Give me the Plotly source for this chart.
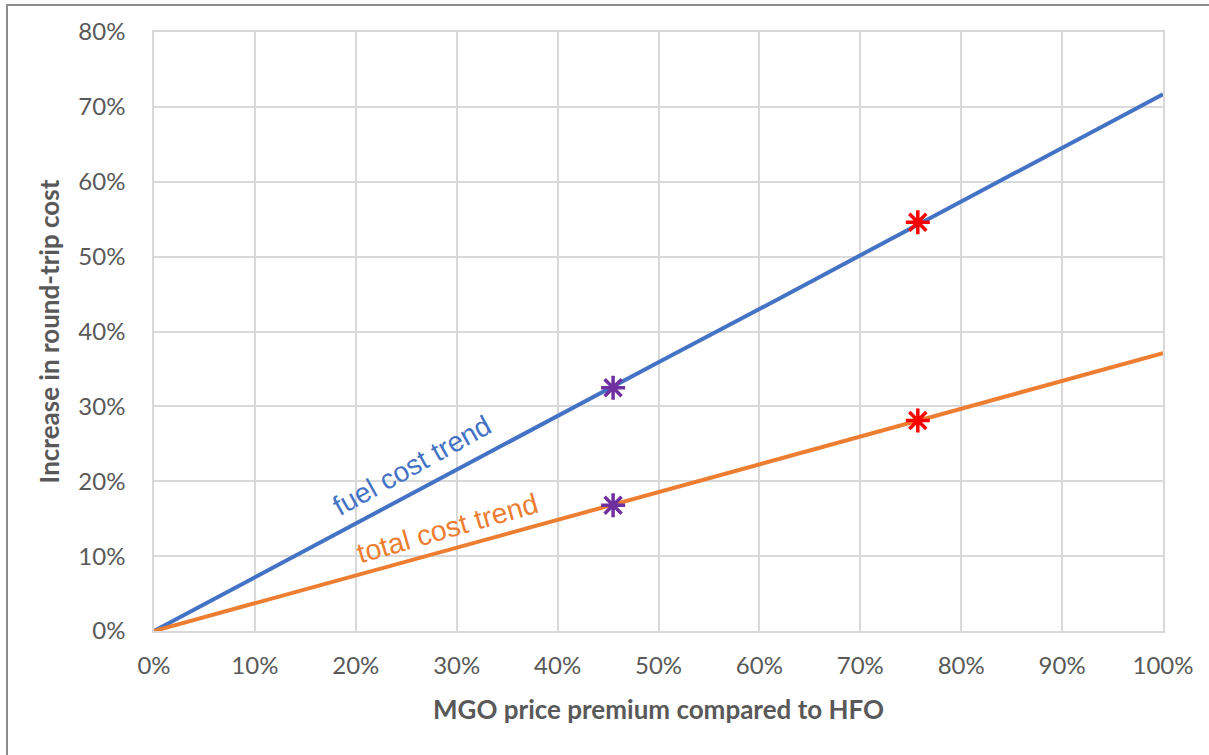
import plotly.graph_objects as go

# Data
premium = [0.0, 0.1, 0.2, 0.3, 0.4, 0.5, 0.6, 0.7, 0.8, 0.9, 1.0]
fuel_cost = [0.0, 0.072, 0.143, 0.215, 0.287, 0.359, 0.430, 0.502, 0.574, 0.645, 0.717]
total_cost = [0.0, 0.037, 0.074, 0.111, 0.148, 0.186, 0.223, 0.260, 0.297, 0.334, 0.371]

purple_x = [0.455, 0.455]
purple_y = [0.325, 0.168]
red_x = [0.757, 0.757]
red_y = [0.546, 0.281]

tick_vals_x = [i / 10 for i in range(11)]
tick_vals_y = [i / 10 for i in range(9)]

BLUE = "#4472C4"
ORANGE = "#ED7D31"
GRID = "#D9D9D9"
TXT = "#595959"

W, H = 1209, 755
L, R, T, B = 154, 46, 32, 124
PW, PH = W - L - R, H - T - B

fig = go.Figure()
fig.add_trace(go.Scatter(x=premium, y=fuel_cost, mode="lines",
                         line=dict(color=BLUE, width=4), showlegend=False, cliponaxis=False))
fig.add_trace(go.Scatter(x=premium, y=total_cost, mode="lines",
                         line=dict(color=ORANGE, width=4), showlegend=False, cliponaxis=False))
fig.add_trace(go.Scatter(x=purple_x, y=purple_y, mode="markers",
                         marker=dict(symbol="asterisk", size=20, line=dict(color="#7030A0", width=3.5)),
                         showlegend=False))
fig.add_trace(go.Scatter(x=red_x, y=red_y, mode="markers",
                         marker=dict(symbol="asterisk", size=20, line=dict(color="#FF0000", width=3.5)),
                         showlegend=False))

fig.add_annotation(x=0.256, y=0.221, text="fuel cost trend", showarrow=False,
                   textangle=-29, font=dict(family="Liberation Sans", size=28, color=BLUE))
fig.add_annotation(x=0.291, y=0.137, text="total cost trend", showarrow=False,
                   textangle=-16, font=dict(family="Liberation Sans", size=28.5, color=ORANGE))

# outer frame (left and top edges visible, others outside the picture)
fig.add_shape(type="rect", xref="paper", yref="paper",
              x0=(7 - L) / PW, x1=(W + 10 - L) / PW,
              y0=(T + PH - (H + 10)) / PH, y1=(T + PH - 5) / PH,
              line=dict(color="#8C8C8C", width=2), fillcolor="rgba(0,0,0,0)", layer="above")

fig.update_xaxes(range=[0, 1], tickvals=tick_vals_x, tickformat=".0%",
                 showgrid=True, gridcolor=GRID, gridwidth=1.5, zeroline=False,
                 showline=True, linecolor=GRID, linewidth=1.5, mirror=True,
                 ticklabelstandoff=12,
                 tickfont=dict(family="Lato", size=24, color=TXT),
                 title=dict(text="<b>MGO price premium compared to HFO</b>", standoff=23,
                            font=dict(family="Lato", size=26, color=TXT)))
fig.update_yaxes(range=[0, 0.8], tickvals=tick_vals_y, tickformat=".0%",
                 showgrid=True, gridcolor=GRID, gridwidth=1.5, zeroline=False,
                 showline=True, linecolor=GRID, linewidth=1.5, mirror=True,
                 ticklabelstandoff=22,
                 tickfont=dict(family="Lato", size=24, color=TXT),
                 title=dict(text="<b>Increase in round-trip cost</b>", standoff=11,
                            font=dict(family="Lato", size=26, color=TXT)))

fig.update_layout(width=W, height=H, plot_bgcolor="white", paper_bgcolor="white",
                  margin=dict(l=L, r=R, t=T, b=B))

fig.write_html("out.html", config={"displayModeBar": False},
               post_script="document.body.style.margin='0';document.body.style.overflow='hidden';")
